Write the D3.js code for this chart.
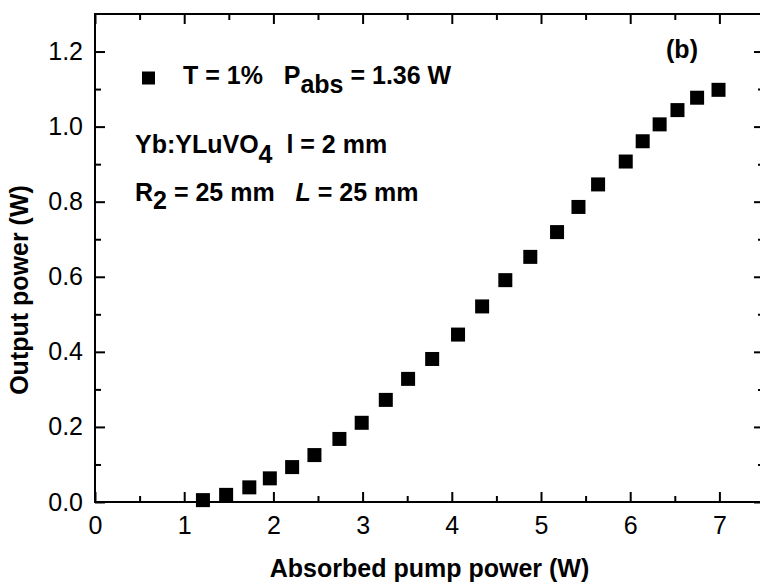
<!DOCTYPE html>
<html>
<head>
<meta charset="utf-8">
<script src="https://cdn.jsdelivr.net/npm/d3@7"></script>
<style>
  html, body { margin: 0; padding: 0; background: #fff; }
  svg { display: block; }
  text { white-space: pre; }
</style>
</head>
<body>
<svg id="chart"></svg>
<script>
(() => {

  // absorbed pump power (W) and output power (W)
  const pumpPower = [1.21, 1.47, 1.73, 1.96, 2.21, 2.46, 2.74, 2.99, 3.26, 3.51, 3.78, 4.07,
    4.34, 4.60, 4.88, 5.18, 5.42, 5.64, 5.95, 6.14, 6.33, 6.53, 6.75, 6.99];
  const outputPower = [0.005, 0.019, 0.039, 0.063, 0.093, 0.125, 0.168, 0.211, 0.272, 0.328, 0.381, 0.446,
    0.521, 0.591, 0.653, 0.719, 0.786, 0.846, 0.907, 0.961, 1.006, 1.044, 1.077, 1.098];

  const xTicks = [0, 1, 2, 3, 4, 5, 6, 7];
  const xMinorTicks = [0.5, 1.5, 2.5, 3.5, 4.5, 5.5, 6.5];
  const yTicks = [0, 0.2, 0.4, 0.6, 0.8, 1.0, 1.2];
  const yMinorTicks = [0.1, 0.3, 0.5, 0.7, 0.9, 1.1];

  const xTitle = 'Absorbed pump power (W)';
  const yTitle = 'Output power (W)';
  const panelLabel = '(b)';

  const FONT = '"Liberation Sans", Arial, Helvetica, sans-serif';

  document.addEventListener("DOMContentLoaded", () => {
    const points = pumpPower.map((p, i) => ({ x: p, y: outputPower[i] }));
    drawChart(points);
  });

  function drawChart(points) {
    const svgWidth = 760;
    const svgHeight = 586;
    const margin = { top: 14, left: 95, right: -4, bottom: 84 };
    const width = svgWidth - (margin.left + margin.right);
    const height = svgHeight - (margin.top + margin.bottom);

    const svg = d3.select('#chart')
      .attr('width', svgWidth)
      .attr('height', svgHeight)
      .style('overflow', 'hidden');

    const g = svg.append('g')
      .attr('transform', `translate(${margin.left}, ${margin.top})`);

    const xScale = d3.scaleLinear().domain([0, 7.5]).range([0, width]);
    const yScale = d3.scaleLinear().domain([0, 1.3]).range([height, 0]);

    const styleAxis = (sel) => {
      sel.select('.domain').remove();
      sel.selectAll('line').attr('stroke', '#000').attr('stroke-width', 2);
      sel.selectAll('text')
        .attr('font-family', FONT)
        .attr('font-size', 25)
        .attr('fill', '#000');
    };

    // minor ticks on all four sides
    g.append('g')
      .attr('transform', `translate(0, ${height})`)
      .call(d3.axisBottom(xScale).tickValues(xMinorTicks).tickSize(-6).tickFormat(''))
      .call(styleAxis);
    g.append('g')
      .call(d3.axisTop(xScale).tickValues(xMinorTicks).tickSize(-6).tickFormat(''))
      .call(styleAxis);
    g.append('g')
      .call(d3.axisLeft(yScale).tickValues(yMinorTicks).tickSize(-6).tickFormat(''))
      .call(styleAxis);
    g.append('g')
      .attr('transform', `translate(${width}, 0)`)
      .call(d3.axisRight(yScale).tickValues(yMinorTicks).tickSize(-6).tickFormat(''))
      .call(styleAxis);

    // major ticks
    g.append('g')
      .attr('transform', `translate(0, ${height})`)
      .call(d3.axisBottom(xScale).tickValues(xTicks).tickSize(-10).tickPadding(14).tickFormat(d3.format('d')))
      .call(styleAxis);
    g.append('g')
      .call(d3.axisTop(xScale).tickValues(xTicks).tickSize(-10).tickFormat(''))
      .call(styleAxis);
    g.append('g')
      .call(d3.axisLeft(yScale).tickValues(yTicks).tickSize(-10).tickPadding(12).tickFormat(d3.format('.1f')))
      .call(styleAxis);
    g.append('g')
      .attr('transform', `translate(${width}, 0)`)
      .call(d3.axisRight(yScale).tickValues(yTicks).tickSize(-10).tickFormat(''))
      .call(styleAxis);

    // frame
    g.append('rect')
      .attr('x', 0)
      .attr('y', 0)
      .attr('width', width)
      .attr('height', height)
      .attr('fill', 'none')
      .attr('stroke', '#000')
      .attr('stroke-width', 2);

    // data squares
    const size = 14;
    g.selectAll('.pt')
      .data(points)
      .enter()
      .append('rect')
      .attr('class', 'pt')
      .attr('x', d => xScale(d.x) - size / 2)
      .attr('y', d => yScale(d.y) - size / 2)
      .attr('width', size)
      .attr('height', size)
      .attr('fill', '#000');

    // axis titles
    svg.append('text')
      .attr('x', margin.left + xScale(3.75))
      .attr('y', 577)
      .attr('text-anchor', 'middle')
      .attr('font-family', FONT)
      .attr('font-size', 25)
      .attr('font-weight', 'bold')
      .text(xTitle);

    svg.append('text')
      .attr('transform', `translate(28, 290) rotate(-90)`)
      .attr('text-anchor', 'middle')
      .attr('font-family', FONT)
      .attr('font-size', 25)
      .attr('font-weight', 'bold')
      .text(yTitle);

    // annotations
    const note = svg.append('g')
      .attr('font-family', FONT)
      .attr('font-size', 25)
      .attr('font-weight', 'bold')
      .attr('fill', '#000');

    note.append('text')
      .attr('x', 682)
      .attr('y', 58)
      .attr('text-anchor', 'middle')
      .text(panelLabel);

    note.append('rect')
      .attr('x', 142)
      .attr('y', 71.5)
      .attr('width', 13)
      .attr('height', 13)
      .attr('fill', '#000');

    const line1 = note.append('text').attr('x', 183).attr('y', 84);
    line1.append('tspan').text('T = 1%   P');
    line1.append('tspan').attr('dy', 9).text('abs');
    line1.append('tspan').attr('dy', -9).text(' = 1.36 W');

    const line2 = note.append('text').attr('x', 135).attr('y', 153);
    line2.append('tspan').text('Yb:YLuVO');
    line2.append('tspan').attr('dy', 10).text('4');
    line2.append('tspan').attr('dy', -10).text('  l = 2 mm');

    const line3 = note.append('text').attr('x', 135).attr('y', 201);
    line3.append('tspan').text('R');
    line3.append('tspan').attr('dy', 8).text('2');
    line3.append('tspan').attr('dy', -8).text(' = 25 mm   ');
    line3.append('tspan').attr('font-style', 'italic').text('L');
    line3.append('tspan').text(' = 25 mm');
  }

})();
</script>
</body>
</html>
